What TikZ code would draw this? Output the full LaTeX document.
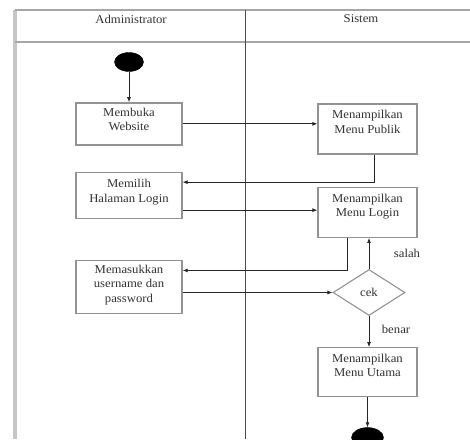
\documentclass[tikz,border=0pt]{standalone}
\usepackage{fontspec}
\setmainfont{Liberation Serif}[FakeStretch=1.06]
\usetikzlibrary{positioning, shapes.geometric, arrows, arrows.meta}

\begin{document}
\begin{tikzpicture}[x=1pt, y=-1pt, node distance=30pt, >=latex, font=\fontsize{12}{14.5}\selectfont]
      \tikzstyle{activity} = [rectangle, minimum width=106pt, minimum height=46pt, text centered, align=center, draw=gray!85, line width=1.3pt, text=black!80, inner sep=2pt, text depth=9pt]
      \tikzstyle{sysactivity} = [activity, minimum width=99pt, minimum height=50pt, text depth=14pt]
      \tikzstyle{decision} = [diamond, aspect=1.57, minimum width=72pt, minimum height=46pt, inner sep=0pt, text centered, draw=gray!85, line width=1.1pt, text=black!80]
      \tikzstyle{startend} = [ellipse, fill=black, draw=black, minimum width=29pt, minimum height=19pt, inner sep=0pt]
      \tikzstyle{lane} = [gray!70, line width=1.5pt]
      \tikzstyle{arrow} = [black!85, line width=0.8pt, -{Latex[length=5pt, width=4pt]}]
      \tikzstyle{guard} = [text=black!80, inner sep=0pt]

      \useasboundingbox (0,0) rectangle (470,439);
      \fill [white] (0,0) rectangle (470,439);

      % swimlanes
      \draw [lane, gray!45, line width=3.5pt] (15,10) -- (15,439);
      \draw [lane] (15,10) -- (470,10);
      \draw [lane] (15,42) -- (470,42);
      \draw [lane, gray!60!black, line width=1pt] (245,10) -- (245,439);
      \node (admin) [guard] at (131,19) {Administrator};
      \node (sistem) [guard] at (361,19) {Sistem};

      % Administrator
      \node (start) [startend] at (129,62) {};
      \node (membuka) [activity, minimum height=42pt, below=30.5pt of start] {Membuka\\Website};
      \node (memilih) [activity, below=26pt of membuka] {Memilih\\Halaman Login};
      \node (memasukkan) [activity, minimum height=53pt, below=41pt of memilih, text depth=7pt] {Memasukkan\\username dan\\password};

      % Sistem
      \node (publik) [sysactivity] at (367.5,129) {Menampilkan\\Menu Publik};
      \node (login) [sysactivity, below=32pt of publik] {Menampilkan\\Menu Login};
      \node (cek) [decision, below=31pt of login, xshift=1.5pt] {cek};
      \node (utama) [sysactivity, minimum height=49pt, below=31pt of cek, xshift=-1.5pt] {Menampilkan\\Menu Utama};
      \node (end) [startend, minimum width=32pt, minimum height=20pt, below=30pt of utama] {};

      \node (salah) [guard] at (407,253) {salah};
      \node (benar) [guard] at (396,329) {benar};

      \draw [arrow] (start) -- (membuka);
      \draw [arrow] (membuka.east) -- (membuka.east -| publik.west);
      \draw [arrow] ([xshift=6.5pt]publik.south) |- ([yshift=13pt]memilih.east);
      \draw [arrow] ([yshift=-15pt]memilih.east) -- ([yshift=-15pt]memilih.east -| login.west);
      \draw [arrow] ([xshift=-20.5pt]login.south) |- ([yshift=16.5pt]memasukkan.east);
      \draw [arrow] (cek.west -| memasukkan.east) -- (cek.west);
      \draw [arrow] (cek.north) -- (cek.north |- login.south);
      \draw [arrow] (cek.south) -- (cek.south |- utama.north);
      \draw [arrow] (utama) -- (end);

    \end{tikzpicture}
\end{document}
